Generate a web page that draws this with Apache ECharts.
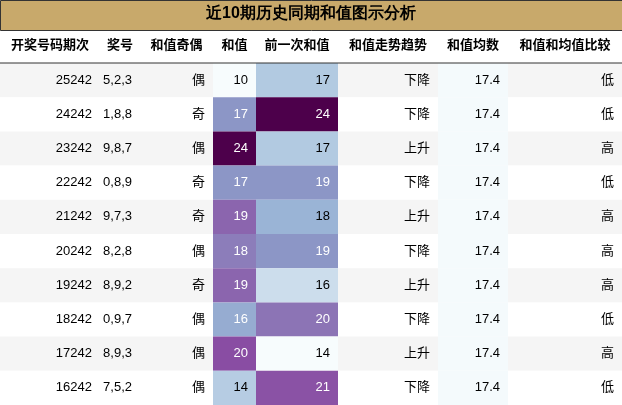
<!DOCTYPE html>
<html lang="zh">
<head>
<meta charset="UTF-8">
<title>近10期历史同期和值图示分析</title>
<script src="https://cdn.jsdelivr.net/npm/echarts@6/dist/echarts.min.js"></script>
<style>html,body{margin:0;padding:0;background:#fff}</style>
</head>
<body>
<div id="main" style="width:622px;height:405px;"></div>
<script>
// 表格数据
var headers = ['开奖号码期次', '奖号', '和值奇偶', '和值', '前一次和值', '和值走势趋势', '和值均数', '和值和均值比较'];
var periods = ['25242', '24242', '23242', '22242', '21242', '20242', '19242', '18242', '17242', '16242'];
var numbers = ['5,2,3', '1,8,8', '9,8,7', '0,8,9', '9,7,3', '8,2,8', '8,9,2', '0,9,7', '8,9,3', '7,5,2'];
var parity = ['偶', '奇', '偶', '奇', '奇', '偶', '奇', '偶', '偶', '偶'];
var sums = [10, 17, 24, 17, 19, 18, 19, 16, 20, 14];
var prevSums = [17, 24, 17, 19, 18, 19, 16, 20, 14, 21];
var trend = ['下降', '下降', '上升', '下降', '上升', '下降', '上升', '下降', '上升', '下降'];
var means = ['17.4', '17.4', '17.4', '17.4', '17.4', '17.4', '17.4', '17.4', '17.4', '17.4'];
var compare = ['低', '低', '高', '低', '高', '高', '高', '低', '高', '低'];

var columns = [periods, numbers, parity, sums, prevSums, trend, means, compare];
var colEdges = [0, 100, 140, 213, 256, 338, 438, 508, 622];
var bupu = ['#f7fcfd', '#e0ecf4', '#bfd3e6', '#9ebcda', '#8c96c6', '#8c6bb1', '#88419d', '#810f7c', '#4d004b'];

var myChart = echarts.init(document.getElementById('main'));

var grids = [], xAxes = [], yAxes = [], series = [];
columns.forEach(function (col, c) {
    grids.push({left: colEdges[c], width: colEdges[c + 1] - colEdges[c], top: 63, bottom: 0});
    xAxes.push({
        type: 'category', gridIndex: c, position: 'top', data: [headers[c]],
        axisLine: {show: false}, axisTick: {show: false},
        axisLabel: {fontWeight: 'bold', fontSize: 13, color: '#000', margin: 11, interval: 0}
    });
    yAxes.push({type: 'category', gridIndex: c, inverse: true, data: periods, show: false});
    var lo = Math.min.apply(null, col), hi = Math.max.apply(null, col);
    series.push({
        type: 'custom', xAxisIndex: c, yAxisIndex: c,
        data: col.map(function (v, r) { return [0, r, v]; }),
        encode: {x: 0, y: 1},
        renderItem: function (params, api) {
            var r = api.value(1), v = col[r];
            var p = api.coord([0, r]), s = api.size([1, 1]);
            var fill = r % 2 === 0 ? '#f5f5f5' : '#ffffff';
            var txt = '#000';
            if (c === 3 || c === 4) {
                fill = api.visual('color');
                if ((v - lo) / (hi - lo) > 0.4) txt = '#fff';
            } else if (c === 6) {
                fill = '#f4fafc';
            }
            return {
                type: 'group',
                children: [{
                    type: 'rect',
                    shape: {x: p[0] - s[0] / 2, y: p[1] - s[1] / 2, width: s[0], height: s[1]},
                    style: {fill: fill}
                }, {
                    type: 'text',
                    style: {
                        x: p[0] + s[0] / 2 - 8, y: p[1], text: String(v),
                        align: 'right', verticalAlign: 'middle',
                        fill: txt, font: '13px "Liberation Sans", "Noto Sans CJK SC", sans-serif'
                    }
                }]
            };
        }
    });
});

option = {
    animation: false,
    textStyle: {fontFamily: '"Liberation Sans", "Noto Sans CJK SC", sans-serif'},
    grid: grids,
    xAxis: xAxes,
    yAxis: yAxes,
    visualMap: [
        {show: false, seriesIndex: 3, dimension: 2, min: Math.min.apply(null, sums), max: Math.max.apply(null, sums), inRange: {color: bupu}},
        {show: false, seriesIndex: 4, dimension: 2, min: Math.min.apply(null, prevSums), max: Math.max.apply(null, prevSums), inRange: {color: bupu}}
    ],
    graphic: [
        {type: 'rect', left: 0, top: 0, shape: {width: 622, height: 30}, style: {fill: '#c8a96b', stroke: '#333', lineWidth: 1}},
        {type: 'text', left: 'center', top: 6, style: {text: '近10期历史同期和值图示分析', fontSize: 16, fontWeight: 'bold', fill: '#000'}},
        {type: 'line', shape: {x1: 0, y1: 63, x2: 622, y2: 63}, style: {stroke: '#333', lineWidth: 1}, z: 100}
    ],
    series: series
};
myChart.setOption(option);
</script>
</body>
</html>
